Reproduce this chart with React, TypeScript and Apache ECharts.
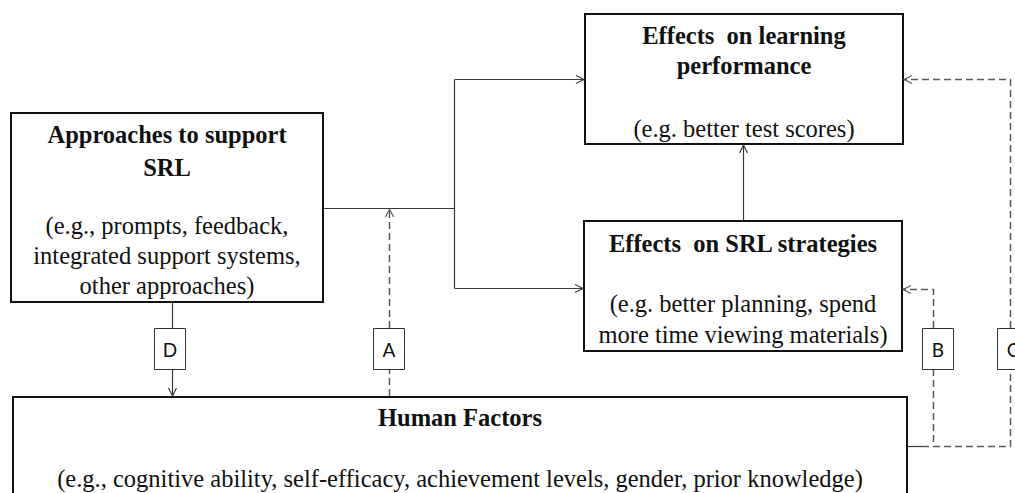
import React, { useEffect, useRef } from "react";
import * as echarts from "echarts";

const SERIF = "'Liberation Serif', 'Times New Roman', Times, serif";
const SANS = "Lato, 'Open Sans', sans-serif";

// ---- diagram text content ----
const approachesTitle = ["Approaches to support", "SRL"];
const approachesExamples = ["(e.g., prompts, feedback,", "integrated support systems,", "other approaches)"];
const learningTitle = ["Effects  on learning", "performance"];
const learningExamples = ["(e.g. better test scores)"];
const strategiesTitle = ["Effects  on SRL strategies"];
const strategiesExamples = ["(e.g. better planning, spend", "more time viewing materials)"];
const humanTitle = ["Human Factors"];
const humanExamples = ["(e.g., cognitive ability, self-efficacy, achievement levels, gender, prior knowledge)"];
const pathLabels = ["A", "B", "C", "D"];

// ---- layout (kept separate from content) ----
const boxLayout = [
  { title: approachesTitle, examples: approachesExamples, x: 11, y: 113, w: 312, h: 189, titleY: [134, 167], exY: [225, 255, 285] },
  { title: learningTitle, examples: learningExamples, x: 585, y: 14, w: 318, h: 130, titleY: [35, 65], exY: [128] },
  { title: strategiesTitle, examples: strategiesExamples, x: 584, y: 221, w: 318, h: 130, titleY: [243], exY: [303, 334] },
  { title: humanTitle, examples: humanExamples, x: 13, y: 397, w: 894, h: 130, titleY: [417], exY: [478] },
];
const labelLayout = [
  { x: 373, y: 328 },
  { x: 922, y: 328 },
  { x: 997, y: 328 },
  { x: 154, y: 328 },
];

const SOLID = "#3a3a3a";
const DASH = "#5a5a5a";

function chevron(tx: number, ty: number, dir: "left" | "right" | "up" | "down", color: string) {
  const L = 8, W = 4;
  let pts: number[][];
  if (dir === "right") pts = [[tx - L, ty - W], [tx, ty], [tx - L, ty + W]];
  else if (dir === "left") pts = [[tx + L, ty - W], [tx, ty], [tx + L, ty + W]];
  else if (dir === "up") pts = [[tx - W, ty + L], [tx, ty], [tx + W, ty + L]];
  else pts = [[tx - W, ty - L], [tx, ty], [tx + W, ty - L]];
  return { type: "polyline", shape: { points: pts }, style: { stroke: color, lineWidth: 1.2, fill: null }, z: 5 };
}

function seg(points: number[][], dashed: boolean) {
  return {
    type: "polyline",
    shape: { points },
    style: {
      stroke: dashed ? DASH : SOLID,
      lineWidth: dashed ? 1.5 : 1.2,
      fill: null,
      lineDash: dashed ? [7, 4] : null,
    },
    z: 2,
  };
}

function txt(t: string, x: number, y: number, family: string, size: number, weight: string) {
  return {
    type: "text",
    x,
    y,
    style: {
      text: t,
      font: `${weight} ${size}px ${family}`,
      fill: "#111",
      textAlign: "center",
      textVerticalAlign: "middle",
      align: "center",
      verticalAlign: "middle",
    },
    z: 4,
  };
}

function buildElements() {
  const els: any[] = [];
  boxLayout.forEach((b) => {
    els.push({
      type: "rect",
      shape: { x: b.x, y: b.y, width: b.w, height: b.h },
      style: { fill: "#fff", stroke: "#111", lineWidth: 2 },
      z: 3,
    });
    const cx = b.x + b.w / 2;
    b.title.forEach((t, i) => els.push(txt(t, cx, b.titleY[i], SERIF, 24.5, "bold")));
    b.examples.forEach((t, i) => els.push(txt(t, cx, b.exY[i], SERIF, 24.5, "normal")));
  });

  pathLabels.forEach((lab, i) => {
    const p = labelLayout[i];
    els.push({
      type: "rect",
      shape: { x: p.x + 0.5, y: p.y + 0.5, width: 31, height: 41 },
      style: { fill: "#fff", stroke: "#333", lineWidth: 1 },
      z: 3,
    });
    els.push(txt(lab, p.x + 16, p.y + 21, SANS, 19, "normal"));
  });

  // solid connectors
  els.push(seg([[323, 208.5], [454.5, 208.5]], false));
  els.push(seg([[454.5, 79.5], [454.5, 288.5]], false));
  els.push(seg([[454.5, 79.5], [584, 79.5]], false));
  els.push(chevron(584, 79.5, "right", SOLID));
  els.push(seg([[454.5, 288.5], [583, 288.5]], false));
  els.push(chevron(583, 288.5, "right", SOLID));
  els.push(seg([[743.5, 220], [743.5, 145]], false));
  els.push(chevron(743.5, 145, "up", SOLID));
  els.push(seg([[172.5, 302], [172.5, 328]], false));
  els.push(seg([[172.5, 369], [172.5, 396]], false));
  els.push(chevron(172.5, 396, "down", SOLID));
  els.push(seg([[903, 446.5], [922, 446.5]], false));

  // dashed moderators
  els.push(seg([[389.5, 396], [389.5, 369]], true));
  els.push(seg([[389.5, 328], [389.5, 209]], true));
  els.push(chevron(389.5, 209, "up", DASH));
  els.push(seg([[933.5, 328], [933.5, 289.5], [903, 289.5]], true));
  els.push(chevron(903, 289.5, "left", DASH));
  els.push(seg([[933.5, 369], [933.5, 446.5]], true));
  els.push(seg([[922, 446.5], [1010.5, 446.5], [1010.5, 369]], true));
  els.push(seg([[1010.5, 328], [1010.5, 79.5], [904, 79.5]], true));
  els.push(chevron(904, 79.5, "left", DASH));

  return els;
}

export default function App() {
  const ref = useRef<HTMLDivElement>(null);
  useEffect(() => {
    if (!ref.current) return;
    const chart = echarts.init(ref.current, undefined, { renderer: "svg" });
    chart.setOption({
      animation: false,
      backgroundColor: "#fff",
      graphic: { elements: buildElements() },
    });
    return () => chart.dispose();
  }, []);
  return (
    <div
      ref={ref}
      style={{ position: "absolute", left: 0, top: 0, width: 1015, height: 493, background: "#fff" }}
    />
  );
}
